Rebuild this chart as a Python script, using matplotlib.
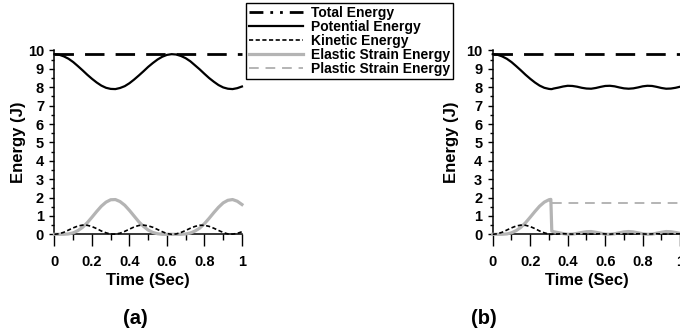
import matplotlib
matplotlib.use('Agg')
import matplotlib.pyplot as plt
from matplotlib.lines import Line2D
from matplotlib.ticker import MultipleLocator

plt.rcParams['font.family'] = ['Liberation Sans', 'DejaVu Sans']
plt.rcParams['font.weight'] = 'bold'

# Case (a): elastic response
t_a = [0.0, 0.025, 0.05, 0.075, 0.1, 0.125, 0.15, 0.175, 0.2, 0.225, 0.25, 0.275,
       0.3, 0.325, 0.35, 0.375, 0.4, 0.425, 0.45, 0.475, 0.5, 0.525, 0.55, 0.575,
       0.6, 0.625, 0.65, 0.675, 0.7, 0.725, 0.75, 0.775, 0.8, 0.825, 0.85, 0.875,
       0.9, 0.925, 0.95, 0.975, 1.0]
pe_a = [9.80, 9.77, 9.68, 9.55, 9.37, 9.15, 8.92, 8.68, 8.46, 8.26, 8.09, 7.97,
        7.91, 7.90, 7.96, 8.06, 8.22, 8.42, 8.64, 8.87, 9.11, 9.32, 9.51, 9.66,
        9.76, 9.80, 9.78, 9.70, 9.58, 9.41, 9.19, 8.97, 8.73, 8.50, 8.30, 8.12,
        7.99, 7.92, 7.90, 7.95, 8.04]
ke_a = [0.00, 0.03, 0.11, 0.23, 0.35, 0.45, 0.50, 0.49, 0.42, 0.31, 0.18, 0.08,
        0.01, 0.01, 0.06, 0.16, 0.28, 0.40, 0.48, 0.50, 0.46, 0.38, 0.26, 0.14,
        0.04, 0.00, 0.02, 0.10, 0.21, 0.33, 0.43, 0.49, 0.49, 0.43, 0.33, 0.21,
        0.10, 0.02, 0.01, 0.05, 0.14]
el_a = [0.00, 0.00, 0.00, 0.02, 0.08, 0.20, 0.38, 0.63, 0.93, 1.24, 1.53, 1.75,
        1.88, 1.89, 1.78, 1.58, 1.30, 0.99, 0.68, 0.43, 0.23, 0.10, 0.03, 0.00,
        0.00, 0.00, 0.00, 0.00, 0.02, 0.07, 0.18, 0.34, 0.58, 0.87, 1.18, 1.47,
        1.71, 1.85, 1.89, 1.80, 1.62]

# Case (b): yielding at t = 0.31 s
t_b = [0.0, 0.025, 0.05, 0.075, 0.1, 0.125, 0.15, 0.175, 0.2, 0.225, 0.25, 0.275,
       0.3, 0.31, 0.315, 0.325, 0.35, 0.375, 0.4, 0.425, 0.45, 0.475, 0.5, 0.525,
       0.55, 0.575, 0.6, 0.625, 0.65, 0.675, 0.7, 0.725, 0.75, 0.775, 0.8, 0.825,
       0.85, 0.875, 0.9, 0.925, 0.95, 0.975, 1.0]
pe_b = [9.80, 9.77, 9.68, 9.55, 9.37, 9.15, 8.92, 8.68, 8.46, 8.26, 8.09, 7.97,
        7.91, 7.90, 7.90, 7.93, 7.98, 8.04, 8.08, 8.07, 8.03, 7.97, 7.93, 7.92,
        7.96, 8.02, 8.07, 8.08, 8.05, 7.99, 7.94, 7.92, 7.94, 7.99, 8.05, 8.08,
        8.07, 8.02, 7.96, 7.92, 7.93, 7.97, 8.03]
ke_b = [0.00, 0.03, 0.11, 0.23, 0.35, 0.45, 0.50, 0.49, 0.42, 0.31, 0.18, 0.08,
        0.01, 0.00, 0.00, 0.01, 0.02, 0.03, 0.02, 0.01, 0.02, 0.03, 0.02, 0.01,
        0.02, 0.03, 0.02, 0.01, 0.02, 0.03, 0.02, 0.01, 0.02, 0.03, 0.02, 0.01,
        0.02, 0.03, 0.02, 0.01, 0.02, 0.03, 0.02]
el_b = [0.00, 0.00, 0.00, 0.02, 0.08, 0.20, 0.38, 0.63, 0.93, 1.24, 1.53, 1.75,
        1.88, 1.90, 0.18, 0.14, 0.09, 0.04, 0.00, 0.01, 0.05, 0.10, 0.14, 0.15,
        0.11, 0.06, 0.01, 0.00, 0.03, 0.08, 0.13, 0.15, 0.13, 0.08, 0.03, 0.00,
        0.01, 0.06, 0.11, 0.15, 0.14, 0.10, 0.05]
t_plastic = [0.315, 1.0]
plastic_b = [1.70, 1.70]

t_total = [0.0, 1.0]
total = [9.8, 9.8]

x_ticks = [0, 0.2, 0.4, 0.6, 0.8, 1.0]
x_labels = ['0', '0.2', '0.4', '0.6', '0.8', '1']
labels = ['Total Energy', 'Potential Energy', 'Kinetic Energy',
          'Elastic Strain Energy', 'Plastic Strain Energy']

gray = '#b4b4b4'

fig = plt.figure(figsize=(6.8, 3.35), dpi=100)
ax_a = fig.add_axes([0.0801, 0.3006, 0.2757, 0.5487])
ax_b = fig.add_axes([0.7246, 0.3006, 0.2757, 0.5487])


def draw_panel(ax, t, pe, ke, el, ylabel_x):
    ax.plot(t_total, total, color='black', lw=2.0, dashes=(7, 4), clip_on=False, zorder=3)
    ax.plot(t, pe, color='black', lw=1.6, clip_on=False, zorder=3)
    ax.plot(t, el, color=gray, lw=2.3, clip_on=False, zorder=3)
    ax.plot(t, ke, color='black', lw=1.2, dashes=(2.5, 1.5), clip_on=False, zorder=4)

    ax.set_xlim(0, 1)
    ax.set_ylim(0, 10)
    for side in ['top', 'right']:
        ax.spines[side].set_visible(False)
    for side in ['left', 'bottom']:
        ax.spines[side].set_linewidth(1.1)

    ax.set_xticks(x_ticks)
    ax.set_xticklabels(x_labels)
    ax.xaxis.set_minor_locator(MultipleLocator(0.1))
    ax.set_yticks(range(0, 11))
    ax.yaxis.set_minor_locator(MultipleLocator(0.5))
    ax.tick_params(axis='x', which='major', length=8.5, width=1, pad=6.5, labelsize=10.5)
    ax.tick_params(axis='x', which='minor', length=4.3, width=1)
    ax.tick_params(axis='y', which='major', length=3.5, width=1, pad=4, labelsize=10.5)
    ax.tick_params(axis='y', which='minor', length=2, width=1)

    ax.set_xlabel('Time (Sec)', fontsize=12, fontweight='bold')
    ax.set_ylabel('Energy (J)', fontsize=12, fontweight='bold')
    ax.xaxis.set_label_coords(0.5, -0.21)
    ax.yaxis.set_label_coords(ylabel_x, 0.5)


draw_panel(ax_a, t_a, pe_a, ke_a, el_a, -0.15)
draw_panel(ax_b, t_b, pe_b, ke_b, el_b, -0.18)
ax_b.plot(t_plastic, plastic_b, color=gray, lw=1.4, dashes=(5, 3.5), zorder=3)

fig.text(135 / 680, 1 - 318 / 335, '(a)', fontsize=14.5, fontweight='bold',
         ha='center', va='center')
fig.text(484 / 680, 1 - 318 / 335, '(b)', fontsize=14.5, fontweight='bold',
         ha='center', va='center')

# Legend shared by both panels
handles = [
    Line2D([], [], color='black', lw=2.0, dashes=(5, 2.5, 1, 2.5, 1, 2.5)),
    Line2D([], [], color='black', lw=1.6),
    Line2D([], [], color='black', lw=1.2, dashes=(2.5, 1.5)),
    Line2D([], [], color=gray, lw=2.3),
    Line2D([], [], color=gray, lw=1.4, dashes=(5, 3.5)),
]
leg = fig.legend(handles, labels, loc='upper left',
                 bbox_to_anchor=(246 / 680, 1 - 3 / 335), borderaxespad=0,
                 fontsize=10, handlelength=3.9, handletextpad=0.6,
                 labelspacing=0.0, borderpad=0.2, fancybox=False,
                 framealpha=1, edgecolor='black')
leg.get_frame().set_linewidth(1.0)
for txt in leg.get_texts():
    txt.set_fontweight('bold')

plt.savefig('out.png', dpi=100)
plt.close()
